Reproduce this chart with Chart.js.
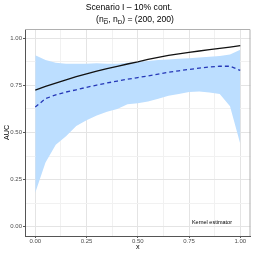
<!DOCTYPE html>
<html>
<head>
<meta charset="utf-8">
<script src="https://cdn.jsdelivr.net/npm/chart.js@4.4.1/dist/chart.umd.min.js"></script>
<style>
  html, body { margin: 0; padding: 0; background: #fff; }
  #wrap { width: 254px; height: 254px; }
</style>
</head>
<body>
<div id="wrap"><canvas id="chart" width="254" height="254"></canvas></div>
<script>
// x grid of the curves
const xs = [0, 0.05, 0.1, 0.15, 0.2, 0.25, 0.3, 0.35, 0.4, 0.45, 0.5,
            0.55, 0.6, 0.65, 0.7, 0.75, 0.8, 0.85, 0.9, 0.95, 1.0]
// true AUC (solid black)
const trueAuc = [0.725, 0.745, 0.763, 0.78, 0.797, 0.812, 0.826, 0.84, 0.852, 0.864, 0.875,
                 0.888, 0.899, 0.91, 0.918, 0.926, 0.933, 0.94, 0.947, 0.954, 0.962]
// mean of kernel estimator (dashed blue)
const meanAuc = [0.635, 0.68, 0.70, 0.715, 0.727, 0.74, 0.752, 0.763, 0.773, 0.783, 0.792,
                 0.80, 0.81, 0.82, 0.828, 0.835, 0.842, 0.848, 0.852, 0.852, 0.83]
// band limits
const lowerAuc = [0.18, 0.34, 0.435, 0.48, 0.535, 0.565, 0.59, 0.61, 0.625, 0.65, 0.655,
                  0.665, 0.68, 0.695, 0.705, 0.715, 0.718, 0.712, 0.705, 0.64, 0.44]
const upperAuc = [0.91, 0.885, 0.87, 0.865, 0.865, 0.866, 0.868, 0.865, 0.866, 0.87, 0.875,
                  0.88, 0.885, 0.888, 0.892, 0.895, 0.898, 0.902, 0.906, 0.915, 0.94]
// ticks (major labelled, minor only gridlines)
const tickVals = [0, 0.125, 0.25, 0.375, 0.5, 0.625, 0.75, 0.875, 1]
const majorTicks = [0, 0.25, 0.5, 0.75, 1]

const pts = arr => arr.map((v, i) => ({ x: xs[i], y: v }))
const isMajor = v => majorTicks.some(m => Math.abs(m - v) < 1e-9)

const FONT = '"Liberation Sans", Arial, Helvetica, sans-serif'

const gridOpts = {
    color: ctx => (ctx.tick && isMajor(ctx.tick.value)) ? '#e4e4e4' : '#f1f1f1',
    tickColor: ctx => (ctx.tick && isMajor(ctx.tick.value)) ? '#555' : 'rgba(0,0,0,0)',
    lineWidth: 1,
    tickLength: 2,
    drawTicks: true
}

// titles, axis titles, annotation, top/right frame
const decor = {
    id: 'decor',
    afterDraw(chart) {
        const c = chart.ctx
        const a = chart.chartArea
        c.save()
        c.strokeStyle = '#b0b0b0'
        c.lineWidth = 1
        c.beginPath()
        c.moveTo(a.left, a.top + 0.5)
        c.lineTo(a.right - 0.5, a.top + 0.5)
        c.lineTo(a.right - 0.5, a.bottom)
        c.stroke()

        c.fillStyle = '#000'
        c.textBaseline = 'middle'
        c.textAlign = 'center'
        c.font = '8.6px ' + FONT
        c.fillText('Scenario I \u2013 10% cont.', 129, 7.5)

        // second title line with subscripts
        const big = '8.6px ' + FONT, small = '6.2px ' + FONT
        const parts = [
            ['(n', big, 0], ['D', small, 2], [', n', big, 0], ['D', small, 2], [') = (200, 200)', big, 0]
        ]
        let w = 0
        parts.forEach(p => { c.font = p[1]; w += c.measureText(p[0]).width })
        let x = 135 - w / 2
        c.textAlign = 'left'
        parts.forEach((p, i) => {
            c.font = p[1]
            c.fillText(p[0], x, 20 + p[2])
            const pw = c.measureText(p[0]).width
            if (i === 1) {
                c.strokeStyle = '#000'
                c.lineWidth = 0.6
                c.beginPath()
                c.moveTo(x + 0.3, 18.6)
                c.lineTo(x + pw - 0.3, 18.6)
                c.stroke()
            }
            x += pw
        })

        // axis titles
        c.textAlign = 'center'
        c.font = '7.2px ' + FONT
        c.fillText('x', (a.left + a.right) / 2, 247.5)
        c.save()
        c.translate(7.5, (a.top + a.bottom) / 2)
        c.rotate(-Math.PI / 2)
        c.fillText('AUC', 0, 0)
        c.restore()

        // annotation inside the panel
        const xs0 = chart.scales.x, ys0 = chart.scales.y
        c.font = '5.5px ' + FONT
        c.fillText('Kernel estimator', xs0.getPixelForValue(0.862), ys0.getPixelForValue(0.02))
        c.restore()
    }
}

new Chart(document.getElementById('chart').getContext('2d'), {
    type: 'line',
    data: {
        datasets: [
            {
                label: 'true', data: pts(trueAuc),
                borderColor: '#111', borderWidth: 1.3, pointRadius: 0, fill: false
            },
            {
                label: 'kernel', data: pts(meanAuc),
                borderColor: '#2638b8', borderWidth: 1.3, borderDash: [4, 3],
                pointRadius: 0, fill: false
            },
            {
                label: 'lower', data: pts(lowerAuc),
                borderWidth: 0, borderColor: 'rgba(0,0,0,0)', pointRadius: 0, fill: false
            },
            {
                label: 'upper', data: pts(upperAuc),
                borderWidth: 0, borderColor: 'rgba(0,0,0,0)', pointRadius: 0,
                fill: '-1', backgroundColor: 'rgb(188,222,255)'
            }
        ]
    },
    options: {
        responsive: false,
        animation: false,
        devicePixelRatio: 1,
        layout: { padding: { top: 29, right: 3.5, left: 0, bottom: 0 } },
        plugins: {
            legend: { display: false },
            title: { display: false },
            tooltip: { enabled: false },
            filler: { drawTime: 'beforeDatasetsDraw' }
        },
        scales: {
            x: {
                type: 'linear', min: -0.05, max: 1.05,
                afterBuildTicks: s => { s.ticks = tickVals.map(v => ({ value: v })) },
                afterFit: s => { s.height = 18 },
                grid: gridOpts,
                border: { display: true, color: '#555', width: 1 },
                ticks: {
                    color: '#4d4d4d', padding: 0, maxRotation: 0, autoSkip: false,
                    font: { family: FONT, size: 6 },
                    callback: v => isMajor(v) ? v.toFixed(2) : ''
                }
            },
            y: {
                type: 'linear', min: -0.05, max: 1.05,
                afterBuildTicks: s => { s.ticks = tickVals.map(v => ({ value: v })) },
                afterFit: s => { s.width = 25 },
                grid: gridOpts,
                border: { display: true, color: '#555', width: 1 },
                ticks: {
                    color: '#4d4d4d', padding: 1, autoSkip: false,
                    font: { family: FONT, size: 6 },
                    callback: v => isMajor(v) ? v.toFixed(2) : ''
                }
            }
        }
    },
    plugins: [decor]
})
</script>
</body>
</html>
